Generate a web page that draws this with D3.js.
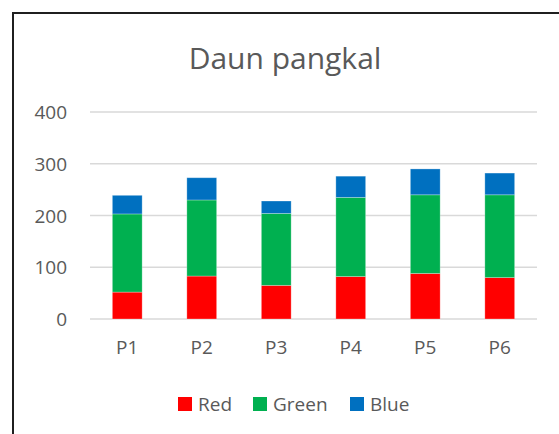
<!DOCTYPE html>
<html>
<head>
<meta charset="utf-8">
<script src="https://cdn.jsdelivr.net/npm/d3@7"></script>
<style>
  body { margin: 0; background: #fff; }
  text { font-family: "Open Sans", sans-serif; fill: #595959; }
</style>
</head>
<body>
<div class="svg-div"></div>
<script>
const categories = ["P1", "P2", "P3", "P4", "P5", "P6"];
const seriesNames = ["Red", "Green", "Blue"];
const redValues = [52, 83, 65, 82, 88, 80];
const greenValues = [151, 147, 139, 153, 152, 160];
const blueValues = [36, 43, 24, 41, 50, 42];
const yTicks = [0, 100, 200, 300, 400];
const colors = ["#ff0000", "#00b050", "#0070c0"];

function drawStacked (svgWidth, svgHeight, margin) {
  let width = svgWidth - margin.left - margin.right;
  let height = svgHeight - margin.top - margin.bottom;

  let svg = d3.select(".svg-div").append("svg")
    .attr("width", svgWidth)
    .attr("height", svgHeight);

  // chart frame, cut off on the right and bottom like the source
  svg.append("rect")
    .attr("x", 13).attr("y", 13)
    .attr("width", 700).attr("height", 600)
    .attr("fill", "none")
    .attr("stroke", "#1f1f1f")
    .attr("stroke-width", 2);

  svg.append("text")
    .attr("x", 285).attr("y", 69)
    .attr("text-anchor", "middle")
    .style("font-size", "30px")
    .text("Daun pangkal");

  let rows = categories.map((c, i) => ({
    cat: c, Red: redValues[i], Green: greenValues[i], Blue: blueValues[i]
  }));
  let stacked = d3.stack().keys(seriesNames)(rows);

  let x = d3.scaleBand()
    .domain(categories)
    .range([0, width])
    .paddingInner(0.6)
    .paddingOuter(0.3);

  let y = d3.scaleLinear()
    .domain([0, 400])
    .range([height, 0]);

  let g = svg.append("g")
    .attr("transform", "translate(" + margin.left + "," + margin.top + ")");

  g.selectAll(".grid")
    .data(yTicks)
    .enter()
    .append("line")
    .attr("class", "grid")
    .attr("x1", 0).attr("x2", width)
    .attr("y1", d => y(d)).attr("y2", d => y(d))
    .attr("stroke", "#d9d9d9")
    .attr("stroke-width", 1.5);

  let yAxis = g.append("g")
    .call(d3.axisLeft(y).tickValues(yTicks).tickSize(0).tickPadding(23));
  yAxis.select(".domain").remove();
  yAxis.selectAll("text")
    .style("font-size", "19px")
    .attr("fill", "#595959")
    .attr("dy", "0.35em");

  let xAxis = g.append("g")
    .attr("transform", "translate(0," + height + ")")
    .call(d3.axisBottom(x).tickSize(0).tickPadding(22));
  xAxis.select(".domain").remove();
  xAxis.selectAll("text")
    .style("font-size", "19px")
    .attr("fill", "#595959")
    .attr("dy", "0.71em");

  g.selectAll(".layer")
    .data(stacked)
    .enter()
    .append("g")
    .attr("class", "layer")
    .attr("fill", (d, i) => colors[i])
    .selectAll("rect")
    .data(d => d)
    .enter()
    .append("rect")
    .attr("x", d => x(d.data.cat))
    .attr("y", d => y(d[1]))
    .attr("width", x.bandwidth())
    .attr("height", d => y(d[0]) - y(d[1]))
    .attr("stroke", "#ffffff")
    .attr("stroke-opacity", 0.35)
    .attr("stroke-width", 0.8);

  // legend
  let legendX = [178, 253, 350];
  let legend = svg.selectAll(".legend")
    .data(seriesNames)
    .enter()
    .append("g")
    .attr("class", "legend")
    .attr("transform", (d, i) => "translate(" + legendX[i] + ",397)");
  legend.append("rect")
    .attr("width", 14).attr("height", 14)
    .attr("fill", (d, i) => colors[i]);
  legend.append("text")
    .attr("x", 20).attr("y", 14)
    .style("font-size", "19px")
    .text(d => d);
}

drawStacked(559, 434, {top: 112, right: 22, bottom: 115, left: 90});
</script>
</body>
</html>
